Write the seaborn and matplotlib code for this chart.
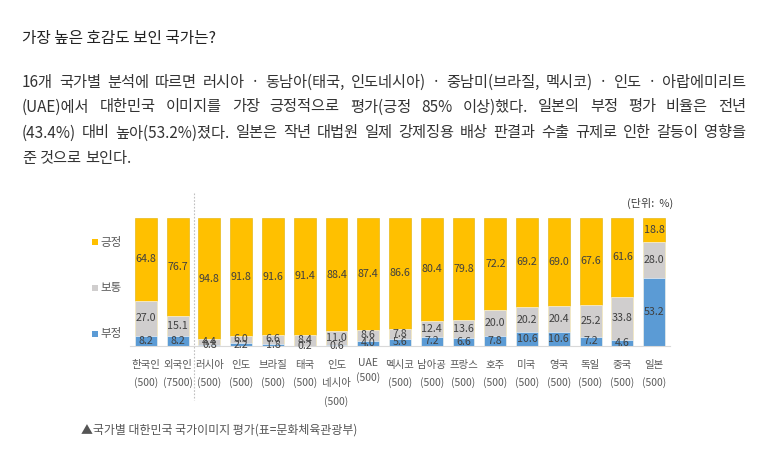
import matplotlib
matplotlib.use("Agg")
import matplotlib.pyplot as plt
import matplotlib.transforms as mtransforms
from matplotlib.lines import Line2D
from matplotlib.patches import Rectangle
import numpy as np
import pandas as pd
import seaborn as sns

W, H = 781, 451

countries = ["한국인", "외국인", "러시아", "인도", "브라질", "태국", "인도네시아", "UAE",
             "멕시코", "남아공", "프랑스", "호주", "미국", "영국", "독일", "중국", "일본"]
samples = ["7500" if c == "외국인" else "500" for c in countries]
negative = [8.2, 8.2, 0.8, 2.2, 1.8, 0.2, 0.6, 4.0, 5.6, 7.2, 6.6, 7.8, 10.6, 10.6, 7.2, 4.6, 53.2]
neutral = [27.0, 15.1, 4.4, 6.0, 6.6, 8.4, 11.0, 8.6, 7.8, 12.4, 13.6, 20.0, 20.2, 20.4, 25.2, 33.8, 28.0]
positive = [64.8, 76.7, 94.8, 91.8, 91.6, 91.4, 88.4, 87.4, 86.6, 80.4, 79.8, 72.2, 69.2, 69.0, 67.6, 61.6, 18.8]

title = "가장 높은 호감도 보인 국가는?"
para = [
    "16개 국가별 분석에 따르면 러시아 · 동남아(태국, 인도네시아) · 중남미(브라질, 멕시코) · 인도 · 아랍에미리트",
    "(UAE)에서 대한민국 이미지를 가장 긍정적으로 평가(긍정 85% 이상)했다. 일본의 부정 평가 비율은 전년",
    "(43.4%) 대비 높아(53.2%)졌다. 일본은 작년 대법원 일제 강제징용 배상 판결과 수출 규제로 인한 갈등이 영향을",
    "준 것으로 보인다.",
]
caption = "▲국가별 대한민국 국가이미지 평가(표=문화체육관광부)"

YELLOW, GRAY, BLUE = "#FFC000", "#D0CECE", "#5B9BD5"
FONT = ["Noto Sans CJK KR", "DejaVu Sans"]

sns.set_theme(style="white")
plt.rcParams["font.family"] = FONT

df = pd.DataFrame({"country": countries, "neg": negative, "neu": neutral, "pos": positive})
df["neu_top"] = df["neg"] + df["neu"]
df["pos_top"] = df["neu_top"] + df["pos"]

fig = plt.figure(figsize=(W / 100, H / 100), dpi=100)
fig.patch.set_facecolor("white")


def px(x, y):
    return x / W, 1 - y / H


# header text
fig.text(*px(22, 38), title, fontsize=11.3, color="#222222", va="center", ha="left")

renderer = fig.canvas.get_renderer()


def justify_line(line, y, x0, x1, size, full=True):
    words = line.split(" ")
    items = [fig.text(0, 0, w, fontsize=size, color="#333333", va="center", ha="left") for w in words]
    widths = [t.get_window_extent(renderer).width for t in items]
    if full and len(words) > 1:
        gap = (x1 - x0 - sum(widths)) / (len(words) - 1)
    else:
        gap = size * 0.35
    x = x0
    for t, w in zip(items, widths):
        t.set_position(px(x, y))
        x += w + gap


para_y = [82, 107, 133, 158]
for i, (line, y) in enumerate(zip(para, para_y)):
    justify_line(line, y, 22, 746, 11, full=i < len(para) - 1)

# chart area
ax = fig.add_axes([130 / W, 105 / H, 540 / W, 128 / H])
sns.barplot(data=df, x="country", y="pos_top", color=YELLOW, width=0.69, ax=ax,
            saturation=1, edgecolor="#E0B000", linewidth=0.4)
sns.barplot(data=df, x="country", y="neu_top", color=GRAY, width=0.69, ax=ax,
            saturation=1, edgecolor="#FFFFFF", linewidth=0.4)
sns.barplot(data=df, x="country", y="neg", color=BLUE, width=0.69, ax=ax,
            saturation=1, edgecolor="#FFFFFF", linewidth=0.4)
ax.set_xlim(-0.5, len(countries) - 0.5)
ax.set_ylim(0, 100)
ax.set_xlabel("")
ax.set_ylabel("")
ax.set_yticks([])
ax.set_xticks([])
for s in ["top", "left", "right"]:
    ax.spines[s].set_visible(False)
ax.spines["bottom"].set_color("#D9D9D9")
ax.spines["bottom"].set_linewidth(0.8)
ax.set_xticks(np.arange(-0.5, len(countries)), minor=True)
ax.tick_params(axis="x", which="minor", length=4, color="#D9D9D9", width=0.8, direction="out")
ax.tick_params(axis="x", which="major", length=0)

lab_kw = dict(ha="center", va="center", fontsize=7.7, color="#404040")
for i, r in df.iterrows():
    ax.text(i, r["neu_top"] + r["pos"] / 2, f"{r['pos']:.1f}", **lab_kw)
    ax.text(i, r["neg"] + r["neu"] / 2, f"{r['neu']:.1f}", **lab_kw)
    ax.text(i, r["neg"] / 2, f"{r['neg']:.1f}", **lab_kw)

# category labels under the axis
trans = mtransforms.blended_transform_factory(ax.transData, fig.transFigure)
tk = dict(ha="center", va="center", fontsize=7.5, color="#595959", transform=trans)
for i, (c, n) in enumerate(zip(countries, samples)):
    if c == "인도네시아":
        ax.text(i, px(0, 365)[1], "인도", **tk)
        ax.text(i, px(0, 383)[1], "네시아", **tk)
        ax.text(i, px(0, 402)[1], f"({n})", **tk)
    elif c == "UAE":
        ax.text(i, px(0, 363)[1], c, **tk)
        ax.text(i, px(0, 378)[1], f"({n})", **tk)
    else:
        ax.text(i, px(0, 365)[1], c, **tk)
        ax.text(i, px(0, 383)[1], f"({n})", **tk)

# dashed separator between groups
ax.add_line(Line2D([1.5, 1.5], [px(0, 193)[1], px(0, 400)[1]], transform=trans,
                   color="#BFBFBF", linestyle=(0, (1.5, 1.5)), linewidth=0.8, clip_on=False))

# legend on the left
for name, col, y in [("긍정", YELLOW, 242), ("보통", GRAY, 288), ("부정", BLUE, 334)]:
    fig.patches.append(Rectangle(px(92, y + 3), 6 / W, 6 / H, transform=fig.transFigure,
                                 facecolor=col, edgecolor="none"))
    fig.text(*px(100, y), name, fontsize=8.3, color="#595959", va="center", ha="left")

fig.text(*px(627, 203), "(단위:  %)", fontsize=8, color="#404040", va="center", ha="left")
fig.text(*px(81, 430), caption, fontsize=8.6, color="#555555", va="center", ha="left")

fig.savefig("out.png", dpi=100)
